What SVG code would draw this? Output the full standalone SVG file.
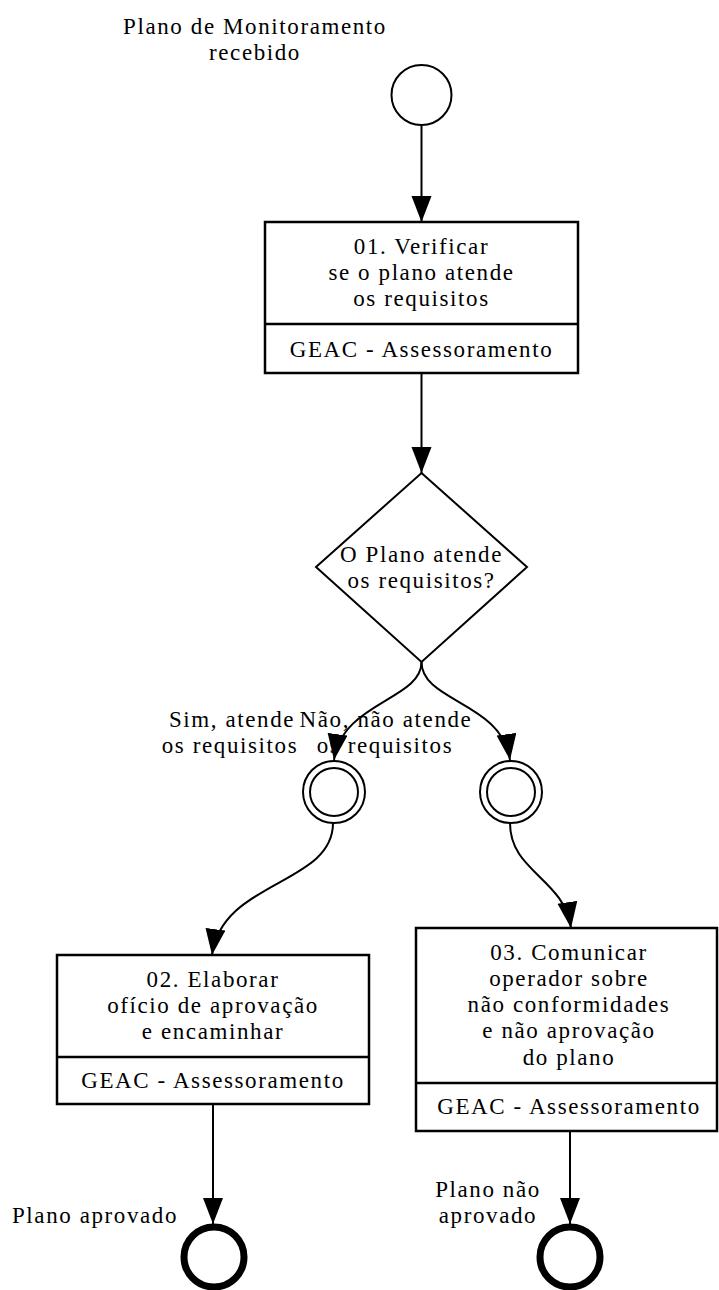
<svg xmlns="http://www.w3.org/2000/svg" width="719" height="1290" viewBox="0 0 719 1290">
  <style>
    text { font-family: "Liberation Serif", "Times New Roman", serif; font-size: 23px; letter-spacing: 1.6px; fill: #000; text-anchor: middle; }
    .box { fill: #fff; stroke: #000; stroke-width: 2.5; }
    .sep { stroke: #000; stroke-width: 2.5; }
    .edge { fill: none; stroke: #000; stroke-width: 2; }
    .ev { fill: #fff; stroke: #000; stroke-width: 2; }
    .end { fill: #fff; stroke: #000; stroke-width: 7; }
  </style>
  <defs>
    <marker id="arrow" markerUnits="userSpaceOnUse" markerWidth="28" markerHeight="22" refX="26" refY="10" orient="auto">
      <path d="M0,0 L26,10 L0,20 Z" fill="#000"/>
    </marker>
  </defs>

  <rect width="719" height="1290" fill="#fff"/>

  <!-- connectors -->
  <g id="connectors">
    <path class="edge" d="M421.5,125 L421.5,222" marker-end="url(#arrow)"/>
    <path class="edge" d="M421.5,373 L421.5,473" marker-end="url(#arrow)"/>
    <path class="edge" d="M421.5,662 C421.5,700 342,702 334,760" marker-end="url(#arrow)"/>
    <path class="edge" d="M421.5,662 C421.5,702 502,702 510,760" marker-end="url(#arrow)"/>
    <path class="edge" d="M333,823 C333,885 222,880 212,955" marker-end="url(#arrow)"/>
    <path class="edge" d="M510,823 C510,872 564,878 571,928" marker-end="url(#arrow)"/>
    <path class="edge" d="M213,1104 L213,1224" marker-end="url(#arrow)"/>
    <path class="edge" d="M570,1131 L570,1224" marker-end="url(#arrow)"/>
    <text x="232" y="727">Sim, atende</text>
    <text x="230" y="753">os requisitos</text>
    <text x="386" y="727">Não, não atende</text>
    <text x="385" y="753">os requisitos</text>
  </g>

  <!-- start event -->
  <g id="start">
    <circle class="ev" cx="421.5" cy="95" r="30"/>
    <text x="255" y="34">Plano de Monitoramento</text>
    <text x="255" y="60">recebido</text>
  </g>

  <!-- task 01 -->
  <g id="task01">
    <rect class="box" x="265" y="222" width="313" height="151"/>
    <line class="sep" x1="265" y1="324" x2="578" y2="324"/>
    <text x="421.5" y="254">01. Verificar</text>
    <text x="421.5" y="280">se o plano atende</text>
    <text x="421.5" y="306">os requisitos</text>
    <text x="421.5" y="357">GEAC - Assessoramento</text>
  </g>

  <!-- decision -->
  <g id="gateway">
    <polygon class="ev" points="421.5,473 527,567 421.5,662 316,567"/>
    <text x="421.5" y="562">O Plano atende</text>
    <text x="421.5" y="588">os requisitos?</text>
  </g>

  <!-- intermediate events -->
  <g id="event-sim">
    <circle class="ev" cx="334" cy="792" r="31"/>
    <circle class="ev" cx="334" cy="792" r="24"/>
  </g>
  <g id="event-nao">
    <circle class="ev" cx="511" cy="792" r="31"/>
    <circle class="ev" cx="511" cy="792" r="24"/>
  </g>

  <!-- task 02 -->
  <g id="task02">
    <rect class="box" x="57" y="955" width="312" height="149"/>
    <line class="sep" x1="57" y1="1057" x2="369" y2="1057"/>
    <text x="213" y="987">02. Elaborar</text>
    <text x="213" y="1013">ofício de aprovação</text>
    <text x="213" y="1039">e encaminhar</text>
    <text x="213" y="1088">GEAC - Assessoramento</text>
  </g>

  <!-- task 03 -->
  <g id="task03">
    <rect class="box" x="416" y="928" width="301" height="203"/>
    <line class="sep" x1="416" y1="1083" x2="717" y2="1083"/>
    <text x="569" y="960">03. Comunicar</text>
    <text x="569" y="986">operador sobre</text>
    <text x="569" y="1012">não conformidades</text>
    <text x="569" y="1038">e não aprovação</text>
    <text x="569" y="1065">do plano</text>
    <text x="569" y="1114">GEAC - Assessoramento</text>
  </g>

  <!-- end events -->
  <g id="end-aprovado">
    <circle class="end" cx="214" cy="1257" r="30"/>
    <text x="95" y="1223">Plano aprovado</text>
  </g>
  <g id="end-nao-aprovado">
    <circle class="end" cx="570" cy="1257" r="30"/>
    <text x="488" y="1197">Plano não</text>
    <text x="488" y="1223">aprovado</text>
  </g>
</svg>
